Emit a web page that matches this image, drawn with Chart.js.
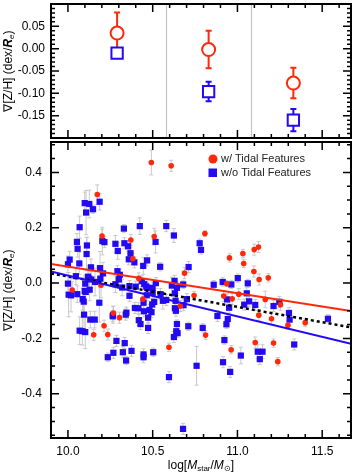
<!DOCTYPE html>
<html>
<head>
<meta charset="utf-8">
<script src="https://cdn.jsdelivr.net/npm/chart.js@4/dist/chart.umd.min.js"></script>
<style>
  html, body { margin: 0; padding: 0; background: #fff; }
  #wrap { position: relative; width: 354px; height: 472px; }
  #topChart { position: absolute; left: 0; top: 0; }
  #bottomChart { position: absolute; left: 0; top: 140px; }
</style>
</head>
<body>
<div id="wrap">
  <canvas id="topChart" width="354" height="142" style="width:354px;height:142px"></canvas>
  <canvas id="bottomChart" width="354" height="332" style="width:354px;height:332px"></canvas>
</div>
<script>
// --- data: binned gradients (top panel) ---
const binX = [10.29, 10.83, 11.33];
const binEdges = [10.58, 11.08];
const redBinY = [0.035, -0.002, -0.077];
const redBinErr = [0.046, 0.042, 0.034];
const blueBinY = [-0.010, -0.096, -0.160];
const blueBinErr = [0.010, 0.022, 0.025];

// --- data: individual galaxies (bottom panel) ---
// w/ tidal features
const redX = [10.173, 10.201, 10.371, 10.383, 10.195, 10.418, 10.025, 10.442, 10.663, 10.268,
              10.304, 10.213, 10.152, 10.235, 10.596, 10.492, 10.609, 10.509, 10.808, 10.953,
              11.032, 11.037, 10.688, 10.937, 11.099, 11.124, 11.097, 11.128, 11.182, 11.008,
              10.919, 10.969, 11.164, 11.254, 10.744, 10.812, 10.963, 11.126, 11.201, 11.298,
              11.400, 11.105, 11.213, 11.238];
const redY = [0.320, 0.170, 0.156, 0.088, -0.008, 0.017, -0.025, -0.058, -0.083, -0.108,
              -0.125, -0.154, -0.187, -0.186, -0.232, 0.436, 0.424, 0.168, 0.179, 0.091,
              0.107, 0.071, 0.036, -0.002, 0.121, 0.130, 0.042, 0.013, 0.019, -0.040,
              -0.047, -0.057, -0.059, -0.078, -0.045, -0.188, -0.241, -0.116, -0.129, -0.152,
              -0.143, -0.215, -0.217, -0.284];
const redErr = [0.035, 0.025, 0.02, 0.02, 0.045, 0.02, 0.03, 0.02, 0.02, 0.025,
                0.02, 0.02, 0.02, 0.02, 0.015, 0.045, 0.02, 0.03, 0.01, 0.015,
                0.015, 0.015, 0.02, 0.01, 0.02, 0.02, 0.02, 0.02, 0.015, 0.02,
                0.02, 0.02, 0.03, 0.02, 0.015, 0.015, 0.015, 0.02, 0.02, 0.015,
                0.015, 0.02, 0.015, 0.015];

// w/o tidal features
const blueX = [10.099, 10.126, 10.187, 10.148, 10.107, 10.069, 10.424, 10.330, 10.053, 10.203,
               10.215, 10.280, 10.333, 10.355, 10.057, 10.112, 10.294, 10.369, 10.110, 10.010,
               10.359, 10.392, 10.467, 10.000, 10.067, 10.444, 10.136, 10.189, 10.292, 10.047,
               10.118, 10.124, 10.138, 10.207, 10.191, 10.160, 10.000, 10.102, 10.306, 10.436,
               10.462, 10.128, 10.099, 10.467, 10.004, 10.018, 10.055, 10.087, 10.093, 10.105,
               10.185, 10.280, 10.300, 10.320, 10.363, 10.400, 10.450, 10.465, 10.095, 10.132,
               10.158, 10.266, 10.264, 10.345, 10.341, 10.069, 10.085, 10.102, 10.286, 10.335,
               10.268, 10.324, 10.375, 10.235, 10.343, 10.446, 10.446, 10.363, 10.395, 10.416,
               10.418, 10.428, 10.473, 10.448, 10.473, 10.481, 10.446, 10.546, 10.560, 10.497,
               10.509, 10.493, 10.631, 10.635, 10.631, 10.637, 10.682, 10.702, 10.643, 10.639,
               10.647, 10.625, 10.710, 10.795, 10.503, 10.596, 10.759, 10.679, 10.882, 10.943,
               10.935, 10.923, 10.915, 10.957, 11.020, 10.951, 10.939, 11.040, 11.069, 11.105,
               11.213, 11.247, 11.304, 11.308, 11.534, 11.120, 11.148, 11.132, 11.335, 10.580,
               10.625, 10.517, 10.777, 10.785, 10.544, 10.712, 10.860, 10.913, 10.964, 11.002,
               11.061, 10.499, 10.519, 10.613, 10.643, 10.680, 10.629, 10.580, 10.500, 11.055];
const blueY = [0.289, 0.286, 0.294, 0.267, 0.255, 0.202, 0.206, 0.197, 0.149, 0.152,
               0.148, 0.142, 0.144, 0.133, 0.124, 0.136, 0.116, 0.108, 0.105, 0.085,
               0.086, 0.075, 0.082, 0.068, 0.071, 0.062, 0.057, 0.054, 0.043, 0.025,
               0.023, 0.016, 0.013, 0.035, 0.016, 0.004, -0.002, -0.002, 0.030, 0.007,
               -0.012, -0.024, -0.029, -0.017, -0.042, -0.044, -0.040, -0.058, -0.067, -0.032,
               -0.071, -0.004, 0.013, -0.016, -0.011, -0.013, -0.004, -0.044, -0.114, -0.132,
               -0.132, -0.115, -0.120, -0.107, -0.114, -0.172, -0.174, -0.177, -0.209, -0.217,
               -0.252, -0.250, -0.245, -0.268, -0.280, -0.258, -0.268, -0.046, -0.090, -0.091,
               -0.134, -0.148, -0.162, -0.102, -0.125, -0.097, -0.071, -0.040, -0.064, -0.077,
               -0.068, -0.105, -0.037, -0.064, -0.091, -0.100, -0.080, -0.058, -0.148, -0.174,
               -0.181, -0.195, -0.156, -0.162, -0.250, -0.340, -0.299, -0.527, -0.119, -0.130,
               -0.149, -0.206, -0.286, -0.321, -0.262, -0.089, -0.059, -0.078, -0.066, -0.079,
               -0.083, -0.068, -0.108, -0.132, -0.129, -0.248, -0.248, -0.275, -0.222, 0.206,
               0.172, 0.149, 0.144, 0.120, 0.059, 0.058, -0.006, 0.004, -0.005, 0.018,
               -0.001, -0.017, 0.000, -0.009, -0.017, -0.005, 0.008, -0.061, -0.035, -0.037];
const blueErr = [0.04, 0.05, 0.03, 0.015, 0.08, 0.04, 0.03, 0.015, 0.03, 0.05,
                 0.02, 0.03, 0.02, 0.02, 0.03, 0.03, 0.03, 0.02, 0.06, 0.03,
                 0.02, 0.02, 0.02, 0.03, 0.04, 0.03, 0.03, 0.06, 0.02, 0.03,
                 0.04, 0.04, 0.03, 0.04, 0.03, 0.05, 0.03, 0.03, 0.02, 0.02,
                 0.02, 0.04, 0.05, 0.02, 0.08, 0.06, 0.03, 0.04, 0.05, 0.04,
                 0.07, 0.03, 0.03, 0.03, 0.02, 0.02, 0.02, 0.02, 0.05, 0.03,
                 0.03, 0.03, 0.02, 0.02, 0.02, 0.05, 0.05, 0.06, 0.02, 0.02,
                 0.02, 0.02, 0.02, 0.015, 0.015, 0.02, 0.02, 0.02, 0.02, 0.02,
                 0.02, 0.02, 0.02, 0.02, 0.02, 0.02, 0.02, 0.02, 0.03, 0.02,
                 0.02, 0.02, 0.02, 0.02, 0.02, 0.02, 0.02, 0.02, 0.015, 0.02,
                 0.015, 0.02, 0.015, 0.015, 0.015, 0.02, 0.07, 0.02, 0.02, 0.02,
                 0.015, 0.015, 0.02, 0.02, 0.03, 0.02, 0.02, 0.02, 0.02, 0.02,
                 0.02, 0.02, 0.02, 0.02, 0.015, 0.025, 0.025, 0.02, 0.02, 0.02,
                 0.025, 0.04, 0.015, 0.015, 0.015, 0.02, 0.015, 0.015, 0.015, 0.015,
                 0.015, 0.02, 0.02, 0.03, 0.02, 0.015, 0.02, 0.02, 0.02, 0.02];

// linear fits (end points at the plot edges)
const fitX = [9.9, 11.67];
const redFitY = [0.069, -0.101];
const blueFitY = [0.042, -0.219];
const allFitY = [0.035, -0.160];

// axis ticks
const xTicks = [10.0, 10.5, 11.0, 11.5];
const topYTicks = [0.05, 0.00, -0.05, -0.10, -0.15];
const bottomYTicks = [0.4, 0.2, 0.0, -0.2, -0.4];

const RED = 'rgb(255, 40, 10)';
const BLUE = 'rgb(35, 10, 240)';
const FONT = '"Liberation Sans", Arial, Helvetica, sans-serif';

const toPoints = (xs, ys) => xs.map((x, i) => ({ x: x, y: ys[i] }));

// keep the plot box exactly where the layout padding puts it
const noPadding = s => { s.paddingTop = 0; s.paddingBottom = 0; s.paddingLeft = 0; s.paddingRight = 0; };

// grey / coloured error bars, drawn under the markers
const errorBarPlugin = {
    id: 'errorBars',
    beforeDatasetsDraw(chart) {
        const { ctx, scales: { x, y } } = chart;
        chart.data.datasets.forEach(ds => {
            if (!ds.errors) return;
            ctx.save();
            ctx.strokeStyle = ds.errorColor;
            ctx.lineWidth = ds.errorWidth;
            ds.data.forEach((pt, j) => {
                const e = ds.errors[j];
                const px = x.getPixelForValue(pt.x);
                const y1 = y.getPixelForValue(pt.y + e);
                const y2 = y.getPixelForValue(pt.y - e);
                const c = ds.errorCap;
                ctx.beginPath();
                ctx.moveTo(px, y1); ctx.lineTo(px, y2);
                ctx.moveTo(px - c, y1); ctx.lineTo(px + c, y1);
                ctx.moveTo(px - c, y2); ctx.lineTo(px + c, y2);
                ctx.stroke();
            });
            ctx.restore();
        });
    }
};

// box round the plot with inward major/minor ticks on all four sides
const framePlugin = {
    id: 'frame',
    beforeDatasetsDraw(chart, args, opts) {
        // vertical bin separators (top panel only)
        if (!opts.edges) return;
        const { ctx, chartArea: a, scales: { x } } = chart;
        ctx.save();
        ctx.strokeStyle = '#c4c4c4';
        ctx.lineWidth = 1.2;
        opts.edges.forEach(v => {
            const px = Math.round(x.getPixelForValue(v)) + 0.5;
            ctx.beginPath(); ctx.moveTo(px, a.top); ctx.lineTo(px, a.bottom); ctx.stroke();
        });
        ctx.restore();
    },
    afterDraw(chart, args, opts) {
        const { ctx, chartArea: a, scales: { x, y } } = chart;
        ctx.save();
        ctx.strokeStyle = '#000';
        ctx.lineWidth = 1.5;
        const ticks = (scale, majors, step, horiz) => {
            const i0 = Math.ceil(scale.min / step - 1e-6);
            const i1 = Math.floor(scale.max / step + 1e-6);
            for (let i = i0; i <= i1; i++) {
                const v = i * step;
                const len = majors.some(m => Math.abs(m - v) < 1e-6) ? 8 : 4;
                const p = scale.getPixelForValue(v);
                ctx.beginPath();
                if (horiz) {
                    ctx.moveTo(p, a.bottom); ctx.lineTo(p, a.bottom - len);
                    ctx.moveTo(p, a.top); ctx.lineTo(p, a.top + len);
                } else {
                    ctx.moveTo(a.left, p); ctx.lineTo(a.left + len, p);
                    ctx.moveTo(a.right, p); ctx.lineTo(a.right - len, p);
                }
                ctx.stroke();
            }
        };
        ticks(x, opts.xMajor, opts.xMinor, true);
        ticks(y, opts.yMajor, opts.yMinor, false);
        ctx.lineWidth = 2;
        ctx.strokeRect(a.left, a.top, a.right - a.left, a.bottom - a.top);
        ctx.restore();
    }
};

// draws a row of text pieces with different fonts / baseline shifts
function drawRich(ctx, parts, cx, cy, rotate) {
    ctx.save();
    ctx.translate(cx, cy);
    if (rotate) ctx.rotate(-Math.PI / 2);
    ctx.fillStyle = '#000';
    ctx.textBaseline = 'middle';
    let total = 0;
    parts.forEach(p => { ctx.font = p.font; total += ctx.measureText(p.t).width; });
    let xx = -total / 2;
    parts.forEach(p => {
        ctx.font = p.font;
        ctx.fillText(p.t, xx, p.dy || 0);
        xx += ctx.measureText(p.t).width;
    });
    ctx.restore();
}

const yLabelParts = [
    { t: '\u2207[Z/H] (dex/', font: '12px ' + FONT },
    { t: 'R', font: 'italic bold 12px ' + FONT },
    { t: 'e', font: 'italic 8px ' + FONT, dy: 3 },
    { t: ')', font: '12px ' + FONT }
];

const labelPlugin = {
    id: 'labels',
    afterDraw(chart, args, opts) {
        const ctx = chart.ctx;
        drawRich(ctx, yLabelParts, 9, opts.yLabelY, true);
        if (opts.xTitle) {
            drawRich(ctx, [
                { t: 'log[', font: '12px ' + FONT },
                { t: 'M', font: 'italic 12px ' + FONT },
                { t: 'star', font: '8px ' + FONT, dy: 3 },
                { t: '/', font: '12px ' + FONT },
                { t: 'M', font: 'italic 12px ' + FONT },
                { t: '\u2299', font: '8px ' + FONT, dy: 3 },
                { t: ']', font: '12px ' + FONT }
            ], 201, opts.xTitleY, false);
        }
        if (opts.legend) {
            ctx.save();
            ctx.font = '11px ' + FONT;
            ctx.textBaseline = 'middle';
            ctx.fillStyle = RED;
            ctx.beginPath(); ctx.arc(213, 19, 4.5, 0, Math.PI * 2); ctx.fill();
            ctx.fillStyle = BLUE;
            ctx.fillRect(208.5, 28.5, 8.5, 8.5);
            ctx.fillStyle = '#222';
            ctx.fillText('w/ Tidal Features', 221, 19);
            ctx.fillText('w/o Tidal Features', 221, 33);
            ctx.restore();
        }
    }
};

const tickFont = { family: FONT, size: 12 };

// --- top panel ---
new Chart(document.getElementById('topChart'), {
    type: 'scatter',
    data: {
        datasets: [{
            data: toPoints(binX, redBinY),
            errors: redBinErr, errorColor: RED, errorWidth: 2, errorCap: 3,
            pointStyle: 'circle', pointRadius: 6.5, borderColor: RED, borderWidth: 2,
            backgroundColor: '#fff', order: 1
        }, {
            data: toPoints(binX, blueBinY),
            errors: blueBinErr, errorColor: BLUE, errorWidth: 2, errorCap: 3,
            pointStyle: 'rect', pointRadius: 8, borderColor: BLUE, borderWidth: 2,
            backgroundColor: '#fff', order: 2
        }]
    },
    options: {
        responsive: false,
        animation: false,
        events: [],
        layout: { autoPadding: false, padding: { left: 0, right: 3, top: 4, bottom: 4 } },
        plugins: {
            legend: { display: false },
            tooltip: { enabled: false },
            frame: { edges: binEdges, xMajor: xTicks, xMinor: 0.1, yMajor: topYTicks.concat([0.1, -0.2]), yMinor: 0.01 },
            labels: { yLabelY: 71 }
        },
        scales: {
            x: { type: 'linear', min: 9.9, max: 11.67, display: false },
            y: {
                min: -0.2, max: 0.1,
                afterBuildTicks: s => { s.ticks = topYTicks.map(v => ({ value: v })); },
                afterFit: s => { s.width = 51; noPadding(s); },
                grid: { display: false, drawTicks: false },
                border: { display: false },
                ticks: { padding: 6, color: '#000', font: tickFont, callback: v => v.toFixed(2) }
            }
        }
    },
    plugins: [errorBarPlugin, framePlugin, labelPlugin]
});

// --- bottom panel ---
new Chart(document.getElementById('bottomChart'), {
    type: 'scatter',
    data: {
        datasets: [{
            type: 'line', data: toPoints(fitX, redFitY), borderColor: RED, borderWidth: 2,
            pointRadius: 0, order: 0
        }, {
            type: 'line', data: toPoints(fitX, blueFitY), borderColor: BLUE, borderWidth: 2,
            pointRadius: 0, order: 0
        }, {
            type: 'line', data: toPoints(fitX, allFitY), borderColor: '#000', borderWidth: 2.5,
            borderDash: [3, 3], pointRadius: 0, order: 0
        }, {
            data: toPoints(redX, redY),
            errors: redErr, errorColor: '#c8c8c8', errorWidth: 1, errorCap: 2,
            pointStyle: 'circle', pointRadius: 2.8, borderWidth: 0, backgroundColor: RED, order: 1
        }, {
            data: toPoints(blueX, blueY),
            errors: blueErr, errorColor: '#c8c8c8', errorWidth: 1, errorCap: 2,
            pointStyle: 'rect', pointRadius: 4.4, borderWidth: 0, backgroundColor: BLUE, order: 2
        }]
    },
    options: {
        responsive: false,
        animation: false,
        events: [],
        layout: { autoPadding: false, padding: { left: 0, right: 3, top: 2, bottom: 0 } },
        plugins: {
            legend: { display: false },
            tooltip: { enabled: false },
            frame: { xMajor: xTicks, xMinor: 0.1, yMajor: bottomYTicks, yMinor: 0.05 },
            labels: { yLabelY: 150, xTitle: true, xTitleY: 326, legend: true }
        },
        scales: {
            x: {
                type: 'linear', min: 9.9, max: 11.67,
                afterBuildTicks: s => { s.ticks = xTicks.map(v => ({ value: v })); },
                afterFit: s => { s.height = 34; noPadding(s); },
                grid: { display: false, drawTicks: false },
                border: { display: false },
                ticks: { padding: 6, color: '#000', font: tickFont, maxRotation: 0, callback: v => v.toFixed(1) }
            },
            y: {
                min: -0.56, max: 0.51,
                afterBuildTicks: s => { s.ticks = bottomYTicks.map(v => ({ value: v })); },
                afterFit: s => { s.width = 51; noPadding(s); },
                grid: { display: false, drawTicks: false },
                border: { display: false },
                ticks: { padding: 9, color: '#000', font: tickFont, callback: v => v.toFixed(1) }
            }
        }
    },
    plugins: [errorBarPlugin, framePlugin, labelPlugin]
});
</script>
</body>
</html>
